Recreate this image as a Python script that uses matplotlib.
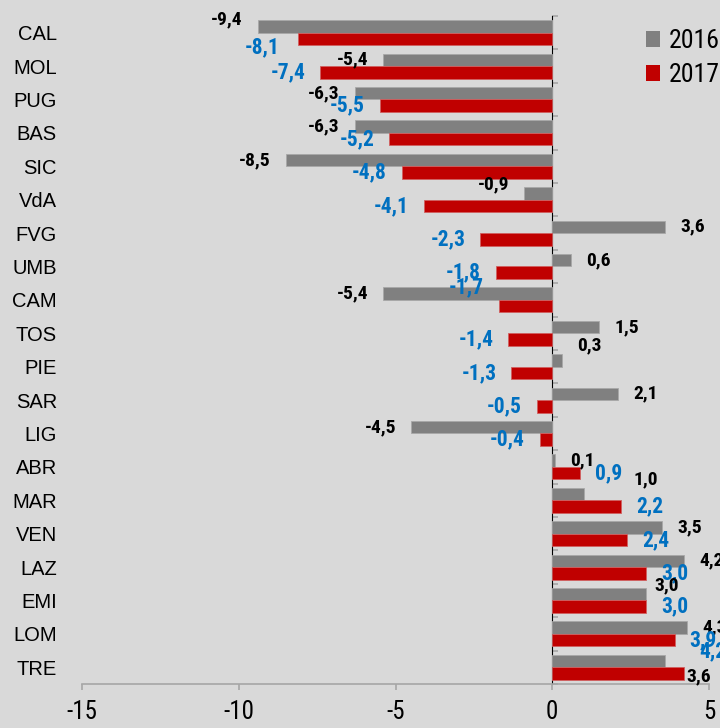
import matplotlib
matplotlib.use("Agg")
import matplotlib.pyplot as plt
from matplotlib import font_manager as fm
import numpy as np
from matplotlib.patches import Patch

regions = ["CAL", "MOL", "PUG", "BAS", "SIC", "VdA", "FVG", "UMB", "CAM", "TOS",
           "PIE", "SAR", "LIG", "ABR", "MAR", "VEN", "LAZ", "EMI", "LOM", "TRE"]
v2016 = [-9.4, -5.4, -6.3, -6.3, -8.5, -0.9, 3.6, 0.6, -5.4, 1.5,
         0.3, 2.1, -4.5, 0.1, 1.0, 3.5, 4.2, 3.0, 4.3, 3.6]
v2017 = [-8.1, -7.4, -5.5, -5.2, -4.8, -4.1, -2.3, -1.8, -1.7, -1.4,
         -1.3, -0.5, -0.4, 0.9, 2.2, 2.4, 3.0, 3.0, 3.9, 4.2]
series_names = ["2016", "2017"]
xticks = [-15, -10, -5, 0, 5]

BG = "#d9d9d9"
GRAY = "#808080"
RED = "#c00000"
BLUE = "#0070c0"
AX = "#a6a6a6"

# look for a narrow / condensed sans font
names = {f.name for f in fm.fontManager.ttflist}
narrow = None
stretch = "normal"
for cand in ["Liberation Sans Narrow", "Arial Narrow", "Roboto Condensed",
             "Open Sans Condensed", "DejaVu Sans Condensed", "Noto Sans Condensed"]:
    if cand in names:
        narrow = cand
        break
if narrow is None:
    for f in fm.fontManager.ttflist:
        if f.name in ("DejaVu Sans", "Roboto", "Open Sans", "Noto Sans", "Liberation Sans") and \
                str(f.stretch) in ("condensed", "semi-condensed", "75", "87"):
            narrow = f.name
            stretch = "condensed"
            break

if narrow is not None:
    NUMFONT = dict(family=[narrow, "Liberation Sans", "DejaVu Sans"], stretch=stretch)
    S_BLACK, S_BLUE, S_LEG, S_TICK = 14, 15.5, 18.5, 18
else:
    NUMFONT = dict(family=["Liberation Sans", "DejaVu Sans"])
    S_BLACK, S_BLUE, S_LEG, S_TICK = 12, 13, 15, 16

# label nudges (pixels; dy positive = up)
NUDGE_2016 = {"CAL": (0, 7), "VdA": (0, 9), "PIE": (0, 15), "MAR": (35, 15),
              "EMI": (-7, 9), "TRE": (6, -15)}
NUDGE_2017 = {"CAL": (-4, -8), "CAM": (0, 19), "TRE": (0, 22)}

W, H, DPI = 720, 728, 100
fig = plt.figure(figsize=(W / DPI, H / DPI), dpi=DPI, facecolor=BG)
ax = fig.add_axes([82 / W, 1 - 684 / H, (709 - 82) / W, (684 - 16) / H])
ax.set_facecolor(BG)

y = np.arange(len(regions))
h = 0.374
ax.barh(y - h / 2, v2016, height=h, color=GRAY, edgecolor="#a8a8a8", linewidth=0.6, zorder=2)
ax.barh(y + h / 2, v2017, height=h, color=RED, edgecolor="#d06060", linewidth=0.6, zorder=2)

ax.set_xlim(-15, 5)
ax.set_ylim(len(regions) - 0.5, -0.5)

px2pt = 72 / DPI
gap = 15

def fmt(v):
    return f"{v:.1f}".replace(".", ",")

for i, r in enumerate(regions):
    for vals, off, col, size, nud in ((v2016, -h / 2, "black", S_BLACK, NUDGE_2016),
                                      (v2017, h / 2, BLUE, S_BLUE, NUDGE_2017)):
        v = vals[i]
        dx, dy = nud.get(r, (0, 0))
        sgn = -1 if v < 0 else 1
        ax.annotate(fmt(v), xy=(v, i + off), xytext=((sgn * gap + dx) * px2pt, dy * px2pt),
                    textcoords="offset points", ha="right" if v < 0 else "left", va="center",
                    color=col, fontsize=size, fontweight="bold",
                    annotation_clip=False, zorder=3, **NUMFONT)

# axes styling
for s in ("top", "right", "left"):
    ax.spines[s].set_visible(False)
ax.spines["bottom"].set_color(AX)
ax.spines["bottom"].set_linewidth(1.2)
ax.set_xticks(xticks)
ax.set_xticklabels([str(t) for t in xticks], fontsize=S_TICK, **NUMFONT)
ax.tick_params(axis="x", direction="out", length=6 * px2pt, width=1.2, color=AX, pad=10 * px2pt)
ax.set_yticks(y)
ax.set_yticklabels(regions, family=["Liberation Sans", "DejaVu Sans"], fontsize=14.5)
ax.tick_params(axis="y", length=0, pad=25 * px2pt)

sec = ax.secondary_yaxis((0 - (-15)) / 20)
sec.set_yticks(np.arange(-0.5, len(regions), 1))
sec.set_yticklabels([])
sec.tick_params(axis="y", direction="out", length=6 * px2pt, width=1.2, color=AX)
sec.spines["left"].set_color(AX)
sec.spines["left"].set_linewidth(1.2)

handles = [Patch(facecolor=GRAY, edgecolor="none"), Patch(facecolor=RED, edgecolor="none")]
fig.legend(handles, series_names, loc="upper left", bbox_to_anchor=(646 / W, 1 - 29 / H),
           frameon=False, prop=dict(size=S_LEG, **NUMFONT), handlelength=0.55,
           handleheight=0.55, handletextpad=0.35, labelspacing=0.4, borderpad=0,
           borderaxespad=0)

fig.savefig("out.png", dpi=DPI, facecolor=BG)
